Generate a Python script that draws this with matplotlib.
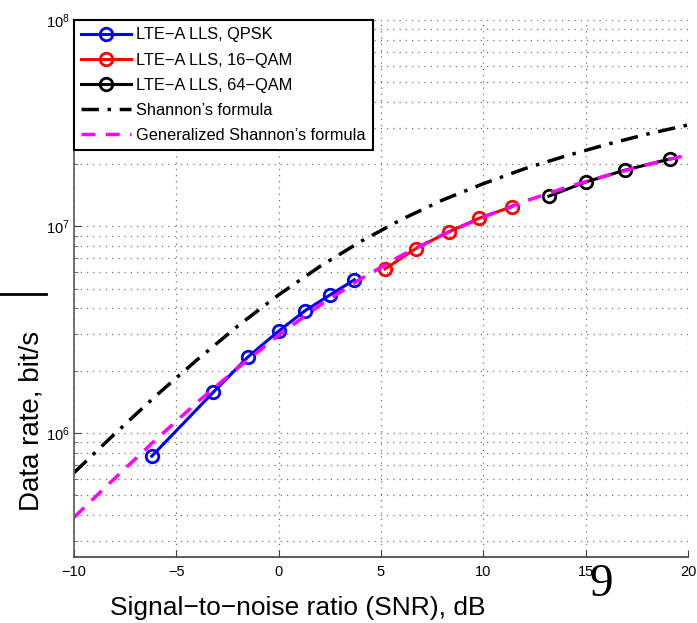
import numpy as np
import matplotlib
matplotlib.use("Agg")
import matplotlib.pyplot as plt
from matplotlib.lines import Line2D

plt.rcParams['font.family'] = ['Liberation Sans', 'DejaVu Sans']

# simulated throughput points (SNR in dB, rate in bit/s)
qpsk_snr = [-6.2, -3.2, -1.5, 0.0, 1.3, 2.5, 3.7]
qpsk_rate = [7.7e5, 1.57e6, 2.33e6, 3.11e6, 3.91e6, 4.65e6, 5.51e6]
qam16_snr = [5.2, 6.7, 8.3, 9.8, 11.4]
qam16_rate = [6.22e6, 7.81e6, 9.40e6, 1.096e7, 1.247e7]
qam64_snr = [13.2, 15.0, 16.9, 19.1]
qam64_rate = [1.40e7, 1.64e7, 1.87e7, 2.12e7]

# curves
curve_snr = [-10, -8, -6, -4, -2, 0, 2, 4, 6, 8, 10, 12, 14, 16, 18, 20]
shannon_rate = [6.4e5, 9.9e5, 1.51e6, 2.25e6, 3.29e6, 4.66e6, 6.38e6, 8.44e6,
                1.08e7, 1.34e7, 1.61e7, 1.90e7, 2.19e7, 2.49e7, 2.80e7, 3.10e7]
gen_rate = [3.89e5, 6.03e5, 9.26e5, 1.40e6, 2.06e6, 2.97e6, 4.14e6, 5.56e6,
            7.23e6, 9.09e6, 1.11e7, 1.32e7, 1.54e7, 1.76e7, 1.99e7, 2.22e7]

labels = ["LTE\u2212A LLS, QPSK", "LTE\u2212A LLS, 16\u2212QAM", "LTE\u2212A LLS, 64\u2212QAM",
          "Shannon\u2019s formula", "Generalized Shannon\u2019s formula"]

fig = plt.figure(figsize=(6.97, 6.23), dpi=100)
ax = fig.add_axes([74/697, 1-557/623, 614/697, 537/623])

mk = dict(marker='o', markersize=9, markerfacecolor='none', markeredgewidth=2, lw=2.2)
ax.plot(qpsk_snr, qpsk_rate, color='#0000ff', markeredgecolor='#0000ff', label=labels[0], **mk)
ax.plot(qam16_snr, qam16_rate, color='#ff0000', markeredgecolor='#ff0000', label=labels[1], **mk)
ax.plot(qam64_snr, qam64_rate, color='black', markeredgecolor='black', label=labels[2], **mk)
ax.plot(curve_snr, shannon_rate, color='black', lw=2.5, linestyle=(0, (5, 2.5, 1, 2.5)), label=labels[3])
ax.plot(curve_snr, gen_rate, color='#ff00ff', lw=2.5, linestyle=(0, (4, 3)), label=labels[4])

ax.set_yscale('log')
ax.set_xlim(-10, 20)
ax.set_ylim(2.5e5, 1e8)
ax.set_xticks([-10, -5, 0, 5, 10, 15, 20])
ax.set_xticklabels(["\u221210", "\u22125", "0", "5", "10", "15", "20"])

ax.grid(True, which='major', axis='both', linestyle=(0, (1, 4)), color='0.45', lw=0.9)
ax.grid(True, which='minor', axis='y', linestyle=(0, (1, 4)), color='0.45', lw=0.9)

for s in ['top', 'right']:
    ax.spines[s].set_visible(False)
ax.spines['left'].set_color('0.35')
ax.spines['bottom'].set_color('0.25')
ax.spines['left'].set_linewidth(1.2)
ax.spines['bottom'].set_linewidth(1.2)
ax.tick_params(which='major', direction='in', length=5, labelsize=10.5, color='0.25', pad=6)
ax.tick_params(which='minor', direction='in', length=3, color='0.35')
ax.tick_params(axis='y', which='major', labelsize=10.5, pad=3)

leg = ax.legend(loc='upper left', bbox_to_anchor=(0, 1), borderaxespad=0, fancybox=False,
                edgecolor='black', framealpha=1, fontsize=11.8, handlelength=3.0,
                handletextpad=0.35, labelspacing=0.62, borderpad=0.45)
leg.get_frame().set_linewidth(1.5)

fig.text(298/697, 1-608/623, "Signal\u2212to\u2212noise ratio (SNR), dB", fontsize=19,
         ha='center', va='center')
fig.text(31/697, 1-421/623, "Data rate, bit/s", fontsize=20, rotation=90,
         ha='center', va='center')

# slide artifacts
fig.add_artist(Line2D([0, 46/697], [1-294/623, 1-294/623], color='black', lw=2))
fig.text(601/697, 1-585/623, "9", fontsize=34, family=['Liberation Serif', 'DejaVu Serif'],
         ha='center', va='center')

fig.savefig("out.png", dpi=100)
